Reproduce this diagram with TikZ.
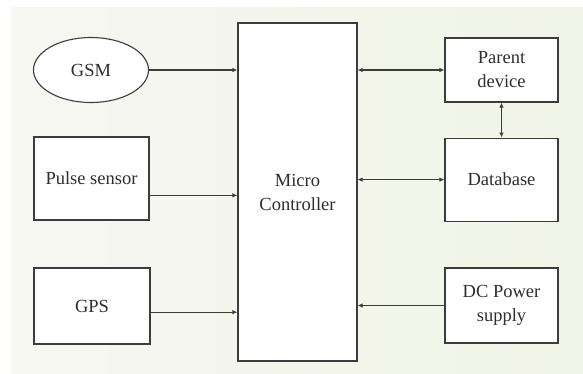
\documentclass[tikz,border=0pt]{standalone}
\usepackage{fontspec}
\setmainfont{Liberation Serif}
\usetikzlibrary{arrows.meta, positioning, shapes.geometric, calc}
\definecolor{grisborde}{HTML}{3C3C3C}
\definecolor{gristexto}{HTML}{2E2E2E}
\definecolor{fondoclaro}{HTML}{F7F7F2}
\definecolor{fondoverde}{HTML}{F0F4E6}
\colorlet{colBorde}{grisborde}
\colorlet{colTexto}{gristexto}
\tikzset{
  cajaBase/.style={
    draw=colBorde, line width=1.1pt,
    align=center, font=\fontsize{18.5}{24}\selectfont, text=colTexto,
    fill=white, inner sep=0pt
  },
  cajaBloque/.style={cajaBase, rectangle},
  cajaElipse/.style={cajaBase, ellipse},
  flecha/.style={-{Latex[length=5pt, width=4.5pt]}, line width=1.1pt, colBorde},
  flechaDoble/.style={{Latex[length=5pt, width=4.5pt]}-{Latex[length=5pt, width=4.5pt]}, line width=1.1pt, colBorde},
}
\begin{document}
\begin{tikzpicture}[x=1pt, y=-1pt]
    \useasboundingbox (0,0) rectangle (583,373);
    \shade[left color=fondoclaro, right color=fondoverde] (11,7) rectangle (583,373);
    % bloque central
    \node[cajaBloque, minimum width=119pt, minimum height=338pt] (micro) at (297.5,192) {Micro\\Controller};
    % entradas
    \node[cajaElipse, minimum width=115pt, minimum height=65pt] (gsm) at (91,70) {GSM};
    \node[cajaBloque, minimum width=115pt, minimum height=83pt] (pulso) at (91.5,178.5) {Pulse sensor};
    \node[cajaBloque, minimum width=116pt, minimum height=76pt] (gps) at (92,306) {GPS};
    % salidas
    \node[cajaBloque, minimum width=113pt, minimum height=64pt] (padre) at (501.5,70) {Parent\\device};
    \node[cajaBloque, minimum width=113pt, minimum height=83pt, below=35pt of padre] (datos) {Database};
    \node[cajaBloque, minimum width=113pt, minimum height=75pt] (fuente) at (501.5,305.5) {DC Power\\supply};
    \draw[flecha] (gsm.east) -- (gsm.east -| micro.west);
    \draw[flecha] ($(pulso.south east)!0.3!(pulso.north east)$) coordinate (salPulso) -- (salPulso -| micro.west);
    \draw[flecha] ($(gps.south east)!0.42!(gps.north east)$) coordinate (salGps) -- (salGps -| micro.west);
    \draw[flechaDoble] (padre.west) -- (padre.west -| micro.east);
    \draw[flechaDoble] (datos.west) -- (datos.west -| micro.east);
    \draw[flechaDoble] (padre.south) -- (datos.north);
    \draw[flecha] (fuente.west) -- (fuente.west -| micro.east);
  \end{tikzpicture}
\end{document}
